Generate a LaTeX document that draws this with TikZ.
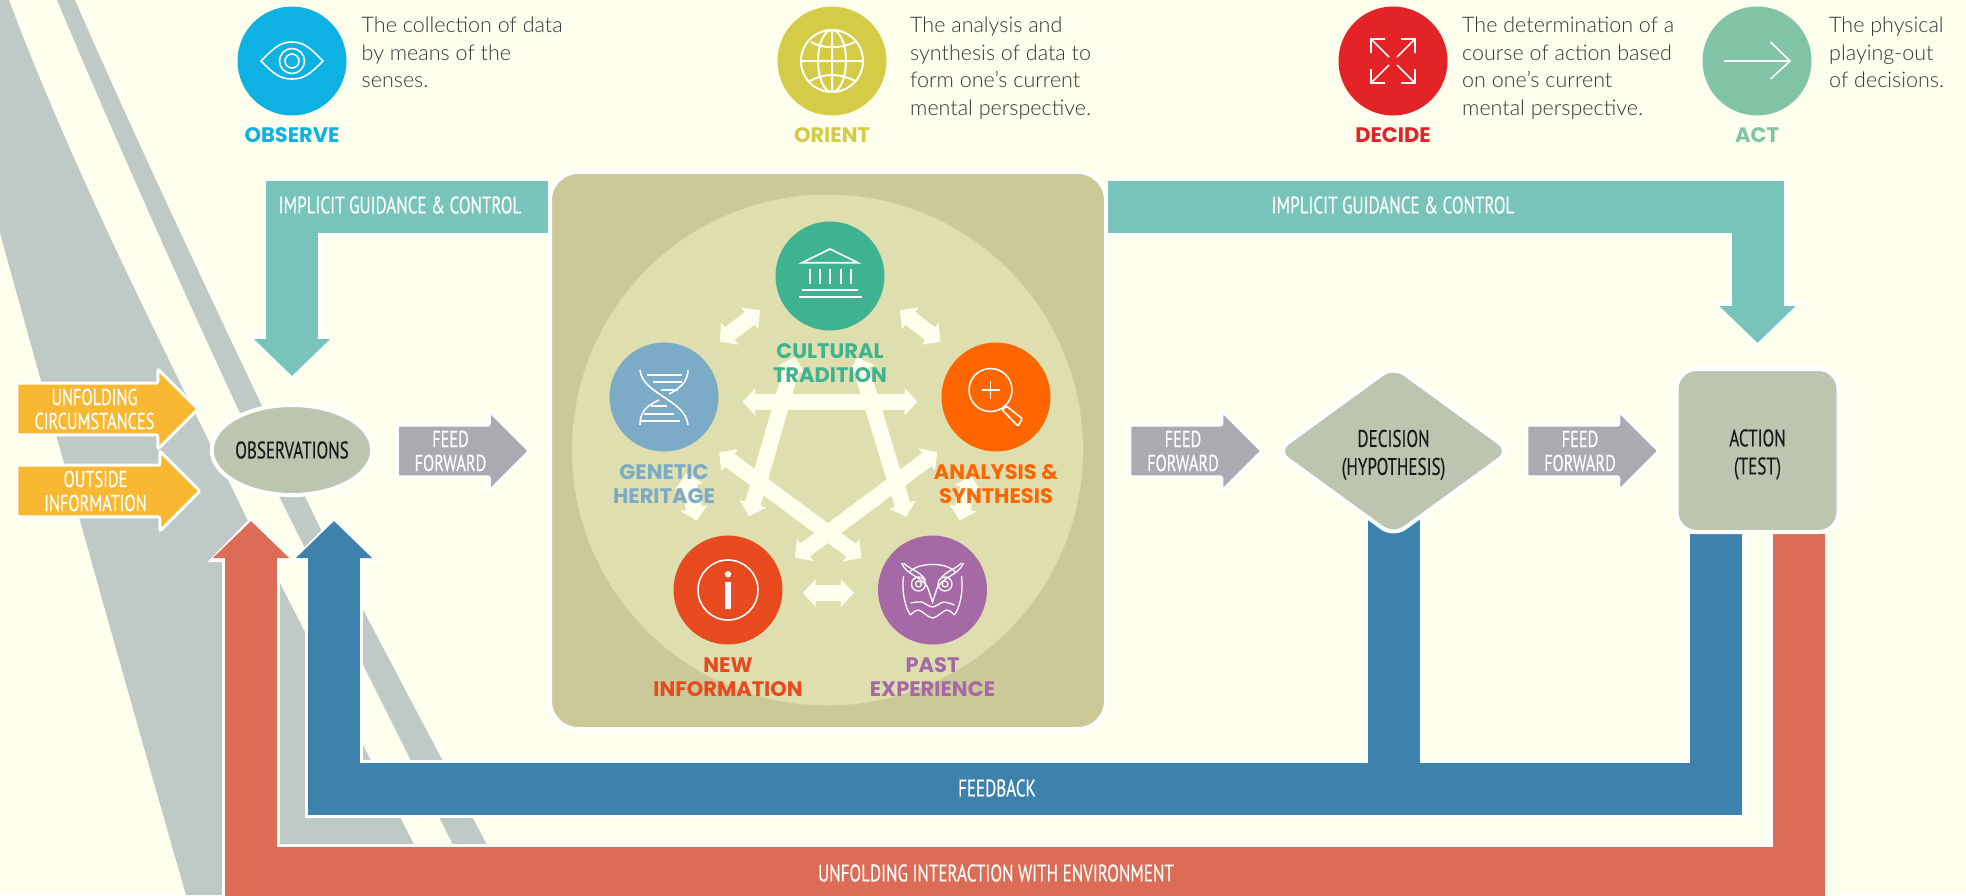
\documentclass[tikz,border=0pt]{standalone}
\usepackage{fontspec}
\usetikzlibrary{shapes.geometric,shapes.arrows,arrows.meta,backgrounds}
\setmainfont{Lato Light}
\newfontfamily\headfont{Poppins}
\newfontfamily\bandfont[FakeStretch=0.71,FakeBold=0.3]{PT Sans}
\definecolor{paper}{HTML}{FFFFEE}
\definecolor{slate}{HTML}{BFC9C6}
\definecolor{sage}{HTML}{BCC5AF}
\definecolor{khaki}{HTML}{CBC998}
\definecolor{pale}{HTML}{DFDEAE}
\definecolor{teal}{HTML}{78C4BB}
\definecolor{feedblue}{HTML}{3C82AD}
\definecolor{envred}{HTML}{DC6C55}
\definecolor{amber}{HTML}{F9B832}
\definecolor{steel}{HTML}{A9ABB1}
\definecolor{observecol}{HTML}{0DB1E2}
\definecolor{orientcol}{HTML}{D4CB47}
\definecolor{decidecol}{HTML}{E32326}
\definecolor{actcol}{HTML}{80C4A5}
\definecolor{culturecol}{HTML}{3FB28F}
\definecolor{geneticcol}{HTML}{7BABC6}
\definecolor{analysiscol}{HTML}{FF6600}
\definecolor{newcol}{HTML}{E84A20}
\definecolor{pastcol}{HTML}{A569A5}
\tikzstyle{phase} = [circle, minimum size=109pt, inner sep=0pt]
\tikzstyle{phaselabel} = [font=\headfont\bfseries\fontsize{21}{24.5}\selectfont, align=center, inner sep=0pt]
\tikzstyle{desc} = [anchor=north west, inner sep=0pt, align=left, text=black!80,
    font=\fontsize{21.5}{27.4}\selectfont]
\tikzstyle{bandtext} = [font=\bandfont\fontsize{24}{24}\selectfont, text=white, align=center, inner sep=0pt]
\tikzstyle{stage} = [draw=white, line width=4pt, fill=sage, inner sep=0pt, align=center,
    font=\bandfont\fontsize{24}{28}\selectfont, text=black!90]
\tikzstyle{flat} = [single arrow, single arrow head extend=12pt, minimum width=80pt,
    minimum height=132pt, inner sep=0pt, draw=white, line width=3pt, rounded corners=2pt,
    anchor=tip, align=center, text=white, font=\bandfont\fontsize{23}{24}\selectfont]
\tikzstyle{twoway} = [{Triangle[length=13pt,width=27pt]}-{Triangle[length=13pt,width=27pt]},
    line width=16pt, draw=paper]
\tikzstyle{icon} = [draw=white, line width=1.6pt]
\tikzset{band/.style={line width=52pt, -{Triangle[length=37pt,width=74pt]}, shorten >=#1,
    preaction={draw=white, line width=58pt, -{Triangle[length=45pt,width=84pt]}, shorten >=#1-4pt}}}

\begin{document}
\begin{tikzpicture}[x=1pt, y=-1pt, node distance=100pt]
    \useasboundingbox (0,0) rectangle (1966,895);

    % Stages
    \node [stage, ellipse, minimum width=152pt, minimum height=90pt] (observations) at (292,450) {OBSERVATIONS};
    \node [stage, diamond, rounded corners=14pt, minimum width=236pt, minimum height=172pt, aspect=1.35] (decision) at (1393.5,451) {\rule{0pt}{25pt}DECISION\\(HYPOTHESIS)};
    \node [stage, rectangle, rounded corners=20pt, minimum width=162pt, minimum height=163pt] (action) at (1757.5,450.5) {\rule{0pt}{25pt}ACTION\\(TEST)};

    % Middle box
    \node [draw=white, line width=4pt, fill=khaki, rounded corners=28pt, minimum width=556pt, minimum height=557pt] (orientbox) at (828,450.5) {};
    \node [circle, fill=pale, minimum size=511pt, inner sep=0pt] (disc) at (827.5,450) {};
    \node [phase, fill=culturecol] (culture) at (830,276) {};
    \node [phase, fill=geneticcol] (genetic) at (664,397) {};
    \node [phase, fill=analysiscol] (analysis) at (996,397) {};
    \node [phase, fill=newcol] (newinfo) at (728,590) {};
    \node [phase, fill=pastcol] (past) at (932.5,590) {};

    % Arrows between the five
    \draw [twoway, shorten <=24pt, shorten >=24pt] (culture.201) -- (genetic.48);
    \draw [twoway, shorten <=24pt, shorten >=24pt] (culture.-21) -- (analysis.132);
    \draw [twoway, shorten <=25pt, shorten >=22pt] (genetic.-72) -- (newinfo.119);
    \draw [twoway, shorten <=28pt, shorten >=20pt] (analysis.251) -- (past.66);
    \draw [twoway, shorten <=20pt, shorten >=24pt] (newinfo.-3) -- (past.183);
    \draw [twoway, shorten <=24pt, shorten >=24pt] (genetic.-5) -- (analysis.185);
    \draw [twoway, shorten <=34pt, shorten >=22pt] (culture.242) -- (newinfo.74);
    \draw [twoway, shorten <=31pt, shorten >=23pt] (culture.-70) -- (past.111);
    \draw [twoway, shorten <=24pt, shorten >=24pt] (genetic.-49) -- (past.161);
    \draw [twoway, shorten <=26pt, shorten >=20pt] (analysis.226) -- (newinfo.22);

    % Labels of the five
    \node [phaselabel, text=culturecol, below of=culture, node distance=87pt] (culturelabel) {CULTURAL\\TRADITION};
    \node [phaselabel, text=geneticcol, below of=genetic, node distance=87pt] (geneticlabel) {GENETIC\\HERITAGE};
    \node [phaselabel, text=analysiscol, below of=analysis, node distance=87pt] (analysislabel) {ANALYSIS \&\\SYNTHESIS};
    \node [phaselabel, text=newcol, below of=newinfo, node distance=87pt] (newlabel) {NEW\\INFORMATION};
    \node [phaselabel, text=pastcol, below of=past, node distance=87pt] (pastlabel) {PAST\\EXPERIENCE};

    % Top row
    \node [phase, fill=observecol] (observe) at (292,61) {};
    \node [phase, fill=orientcol, right of=observe, node distance=540pt] (orient) {};
    \node [phase, fill=decidecol, right of=orient, node distance=561pt] (decide) {};
    \node [phase, fill=actcol, right of=decide, node distance=364pt] (act) {};
    \node [phaselabel, text=observecol, below of=observe, node distance=74pt] (observelabel) {OBSERVE};
    \node [phaselabel, text=orientcol, below of=orient, node distance=74pt] (orientlabel) {ORIENT};
    \node [phaselabel, text=decidecol, below of=decide, node distance=74pt] (decidelabel) {DECIDE};
    \node [phaselabel, text=actcol, below of=act, node distance=74pt] (actlabel) {ACT};
    \node [desc] (observetext) at (361.5,17) {The collection of data\\by means of the\\senses.};
    \node [desc] (orienttext) at (910,17) {The analysis and\\synthesis of data to\\form one's current\\mental perspective.};
    \node [desc] (decidetext) at (1462,17) {The determination of a\\course of action based\\on one's current\\mental perspective.};
    \node [desc] (acttext) at (1829,17) {The physical\\playing-out\\of decisions.};

    % Block arrows
    \node [flat, fill=amber, minimum height=181pt] (circumstances) at (200,409) {UNFOLDING\\CIRCUMSTANCES};
    \node [flat, fill=amber, minimum height=183pt] (outside) at (202,491) {OUTSIDE\\INFORMATION};
    \node [flat, fill=steel] (feed1) at (531.5,451) {FEED\\FORWARD};
    \node [flat, fill=steel] (feed2) at (1264,451) {FEED\\FORWARD};
    \node [flat, fill=steel] (feed3) at (1661,451) {FEED\\FORWARD};

    % Band labels
    \node [bandtext] (guideleft) at (400,205) {IMPLICIT GUIDANCE \& CONTROL};
    \node [bandtext] (guideright) at (1393,205) {IMPLICIT GUIDANCE \& CONTROL};
    \node [bandtext] (feedback) at (997,788) {FEEDBACK};
    \node [bandtext] (interaction) at (996,873) {UNFOLDING INTERACTION WITH ENVIRONMENT};

    % Icons
    \begin{scope}[shift={(observe.center)}]
        \draw [icon] (-31,0) .. controls (-18,-13) and (-12,-19) .. (0,-19) .. controls (12,-19) and (18,-13) .. (31,0)
            .. controls (18,13) and (12,18) .. (0,18) .. controls (-12,18) and (-18,13) .. cycle;
        \draw [icon] (0,0) circle (12.5) (0,0) circle (7);
    \end{scope}
    \begin{scope}[shift={(orient.center)}]
        \draw [icon, line width=2pt] (0,0) circle (31) (0,0) ellipse (14 and 31) (0,-31) -- (0,31) (-31,0) -- (31,0);
        \draw [icon, line width=2pt] (-21,-19) .. controls (-8,-12) and (8,-12) .. (23,-19);
        \draw [icon, line width=2pt] (-22,20) .. controls (-8,12) and (8,12) .. (23,20);
    \end{scope}
    \begin{scope}[shift={(decide.center)}]
        \draw [icon] (-8,-22) -- (-22,-22) -- (-22,-8) (-22,-22) -- (-4,-4);
        \draw [icon] (8,-22) -- (22,-22) -- (22,-8) (22,-22) -- (4,-4);
        \draw [icon] (-8,22) -- (-22,22) -- (-22,8) (-22,22) -- (-4,4);
        \draw [icon] (8,22) -- (22,22) -- (22,8) (22,22) -- (4,4);
    \end{scope}
    \begin{scope}[shift={(act.center)}]
        \draw [icon] (-33,0) -- (33,0) (13.5,-19) -- (33,0) -- (13.5,18);
    \end{scope}
    \begin{scope}[shift={(culture.center)}]
        \draw [icon] (-28,-13.3) -- (0,-27) -- (28,-13.3) -- cycle;
        \draw [icon] (-20,-7) -- (-20,8) (-10,-7) -- (-10,8) (0,-7) -- (0,8) (11,-7) -- (11,8) (21,-7) -- (21,8);
        \draw [icon] (-28,14) -- (28,14) (-31,21) -- (32,21);
    \end{scope}
    \begin{scope}[shift={(genetic.center)}]
        \draw [icon] (-24,-27) .. controls (-22,-3) and (22,3) .. (24,28);
        \draw [icon] (24,-27) .. controls (24,-15) and (15,-8) .. (5,-3);
        \draw [icon] (-5,3) .. controls (-18,9) and (-24,15) .. (-24,28);
        \draw [icon] (-17,-22) -- (18,-22) (-11,-15) -- (18,-15) (-3,-7) -- (14,-7);
        \draw [icon] (-13,9) -- (3,9) (-20,17) -- (10,17) (-23,24) -- (16,24);
    \end{scope}
    \begin{scope}[shift={(analysis.center)}]
        \draw [icon] (-5.5,-7) circle (21.5);
        \draw [icon] (-14.5,-7) -- (3.5,-7) (-5.5,-16) -- (-5.5,2);
        \draw [icon, rounded corners=1pt] (6,12.7) -- (10.7,9.3) -- (26.3,21.7) -- (21.9,29) -- cycle;
    \end{scope}
    \begin{scope}[shift={(newinfo.center)}]
        \draw [icon] (0,0) circle (30);
        \fill [white] (0,-15.7) circle (3.2);
        \fill [white] (-2.6,-8) rectangle (2.6,19);
    \end{scope}
    \begin{scope}[shift={(past.center)}, line width=1.3pt]
        \draw [draw=white] (-22.5,-18.3) .. controls (-14,-28) and (14,-28) .. (22.5,-18.3);
        \draw [draw=white] (-31,-27) .. controls (-26,-15) and (-12,-14) .. (-5,-3) -- (0,12) -- (5,-3)
            .. controls (12,-14) and (26,-15) .. (31,-27);
        \draw [draw=white] (-29,-27) .. controls (-22,-20) and (-14,-20) .. (-7,-10)
            (29,-27) .. controls (22,-20) and (14,-20) .. (7,-10);
        \draw [draw=white] (-14,-6) circle (7) (-14,-6) circle (3) (12.5,-6) circle (7) (12.5,-6) circle (3);
        \draw [draw=white] (-29,-14) .. controls (-31,3) and (-27,18) .. (-22,25)
            (29,-14) .. controls (31,3) and (27,18) .. (22,25);
        \draw [draw=white] plot [smooth] coordinates {(-22,13) (-11,12) (0,17) (11,12) (22,15)};
        \draw [draw=white] plot [smooth] coordinates {(-22,25) (-14,20) (0,28) (14,20) (22,25)};
    \end{scope}

    % Everything below the nodes
    \begin{scope}[on background layer]
        \fill [paper] (0,0) rectangle (1966,895);
        \fill [slate] (0,0) -- (9,0) .. controls (80,190) and (190,400) .. (246,517) -- (440,895) -- (186,895) .. controls (130,700) and (60,450) .. (0,233) -- cycle;
        \fill [slate] (57,0) -- (75,0) .. controls (140,150) and (240,360) .. (320,528) -- (486,843) -- (530,895) -- (490,895) -- (452,843) -- (280,498) .. controls (200,330) and (120,150) .. (57,0) -- cycle;

        \draw [band=24pt, teal] ([yshift=244pt]orientbox.east) -| (action.north);
        \draw [band=27pt, teal] ([yshift=244pt]orientbox.west) -| (observations.north);
        \draw [band=24pt, envred] ([xshift=41.5pt]action.south) -- ++(0,339) -| ([xshift=-41pt]observations.south);
        \draw [band=24pt, feedblue] ([xshift=-41.5pt]action.south) -- ++(0,254.5) -| ([xshift=42pt]observations.south);
        \draw [feedblue, line width=52pt, preaction={draw=white, line width=58pt, shorten >=28pt}] (decision.center) -- (decision.center |- feedback);
    \end{scope}
\end{tikzpicture}
\end{document}
